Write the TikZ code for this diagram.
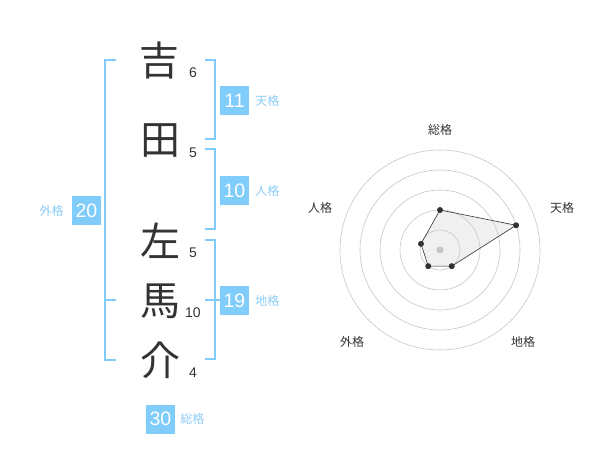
\documentclass[tikz,border=0pt]{standalone}
\usepackage{fontspec}
\setmainfont{Liberation Sans}
\newfontfamily\jp{Noto Sans CJK JP}
\usetikzlibrary{positioning}
\definecolor{kakublue}{RGB}{128,204,250}
\definecolor{kakutext}{RGB}{140,205,245}
\definecolor{inkgray}{RGB}{51,51,51}
\tikzstyle{kanji} = [inner sep=0pt, text=inkgray, font=\jp\fontsize{40}{40}\selectfont]
\tikzstyle{stroke} = [inner sep=0pt, text=inkgray, font=\fontsize{14}{14}\selectfont]
\tikzstyle{kakubox} = [fill=kakublue, text=white, minimum size=29pt, inner sep=0pt, font=\fontsize{19.5}{19.5}\selectfont]
\tikzstyle{kakuname} = [inner sep=0pt, text=kakutext, font=\jp\fontsize{12}{12}\selectfont]
\tikzstyle{bracket} = [draw=kakublue, line width=1.6pt]
\tikzstyle{axisname} = [inner sep=0pt, text=inkgray, font=\jp\fontsize{12}{12}\selectfont]
\tikzstyle{ring} = [draw=gray!45, line width=0.6pt]
\tikzstyle{dot} = [circle, fill=inkgray, inner sep=0pt, minimum size=6pt]

\begin{document}
\begin{tikzpicture}[x=1pt, y=-1pt]
  \useasboundingbox (0,0) rectangle (600,470);

  % name column
  \node (c1) [kanji] at (159,60) {吉};
  \node (c2) [kanji] at (160,141) {田};
  \node (c3) [kanji] at (160,241) {左};
  \node (c4) [kanji] at (160,301) {馬};
  \node (c5) [kanji] at (160,360) {介};
  \node (s1) [stroke] at (193,73) {6};
  \node (s2) [stroke] at (193,153) {5};
  \node (s3) [stroke] at (193,253) {5};
  \node (s4) [stroke] at (193,313) {10};
  \node (s5) [stroke] at (193,373) {4};

  % brackets
  \draw [bracket] (116,60) -- (105,60) -- (105,360) -- (116,360);
  \draw [bracket] (105,300) -- (116,300);
  \draw [bracket] (205,60) -- (215,60) -- (215,139) -- (205,139);
  \draw [bracket] (205,149) -- (215,149) -- (215,229) -- (205,229);
  \draw [bracket] (205,240) -- (215,240) -- (215,359) -- (205,359);
  \draw [bracket] (205,300) -- (220,300);

  % scores
  \node (ten) [kakubox] at (234.5,100.5) {11};
  \node (tenL) [kakuname, right=6pt of ten] {天格};
  \node (jin) [kakubox] at (234.5,190.5) {10};
  \node (jinL) [kakuname, right=6pt of jin] {人格};
  \node (chi) [kakubox] at (234.5,300.5) {19};
  \node (chiL) [kakuname, right=6pt of chi] {地格};
  \node (gai) [kakubox] at (86.5,210.5) {20};
  \node (gaiL) [kakuname, left=8pt of gai] {外格};
  \node (sou) [kakubox] at (160.5,419) {30};
  \node (souL) [kakuname, right=5pt of sou] {総格};

  % radar chart
  \begin{scope}[shift={(440,250)}, y=1pt]
    \foreach \r in {20,40,...,100}
      \draw [ring] (0,0) circle (\r);
    \fill [gray!45] (0,0) circle (3.5);
    \coordinate (pSou) at (90:40);
    \coordinate (pTen) at (18:80);
    \coordinate (pChi) at (-54:20);
    \coordinate (pGai) at (-126:20);
    \coordinate (pJin) at (162:20);
    \draw [fill=gray!40, fill opacity=0.3, draw=inkgray, line width=0.6pt]
      (pSou) -- (pTen) -- (pChi) -- (pGai) -- (pJin) -- cycle;
    \foreach \p in {pSou,pTen,pChi,pGai,pJin}
      \node [dot] at (\p) {};
    \node (aSou) [axisname] at (0,120) {総格};
    \node (aTen) [axisname] at (122,42) {天格};
    \node (aJin) [axisname] at (-120,42) {人格};
    \node (aGai) [axisname] at (-88,-92) {外格};
    \node (aChi) [axisname] at (83,-92) {地格};
  \end{scope}
\end{tikzpicture}
\end{document}
